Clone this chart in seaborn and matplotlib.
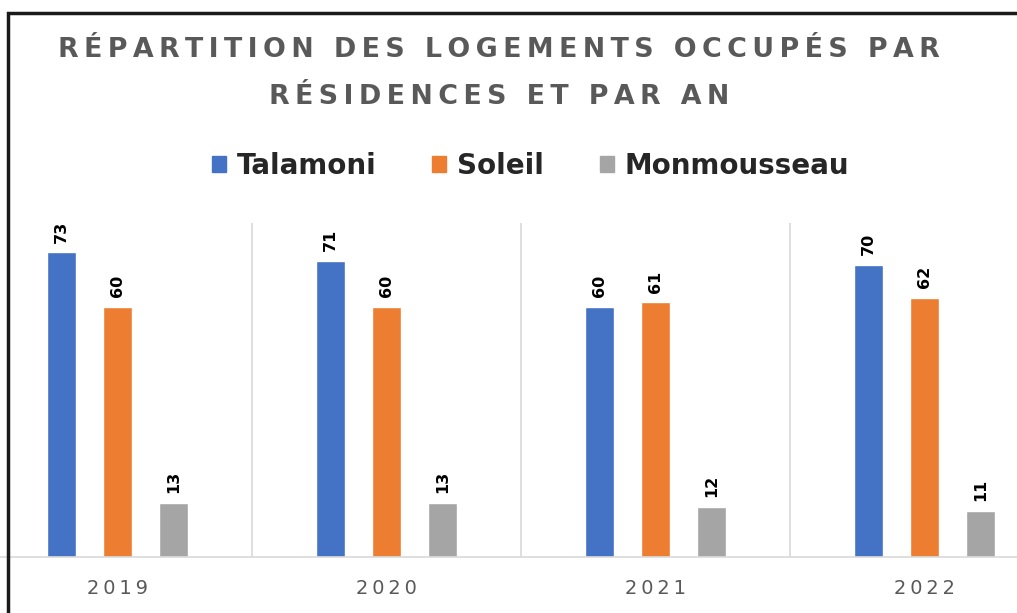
import matplotlib
matplotlib.use("Agg")
import matplotlib.pyplot as plt
import matplotlib.patches as mpatches
import seaborn as sns
import pandas as pd
import numpy as np

years = ["2019", "2020", "2021", "2022"]
talamoni = [73, 71, 60, 70]
soleil = [60, 60, 61, 62]
monmousseau = [13, 13, 12, 11]
residences = ["Talamoni", "Soleil", "Monmousseau"]
colors = ["#4472C4", "#ED7D31", "#A5A5A5"]
title_lines = ["RÉPARTITION DES LOGEMENTS OCCUPÉS PAR", "RÉSIDENCES ET PAR AN"]

df = pd.DataFrame({
    "An": years * 3,
    "Résidence": [r for r in residences for _ in years],
    "Logements": talamoni + soleil + monmousseau,
})


def spaced(s, sep="\u2009"):
    # fake letter spacing with thin spaces
    return sep.join(s)


sns.set_style("white")
plt.rcParams["font.family"] = ["DejaVu Sans"]

W, H = 1017, 613
fig = plt.figure(figsize=(W / 100, H / 100), dpi=100)
# plot area is wider than the cropped picture (left edge sits off-canvas)
ax = fig.add_axes([-17 / W, 56 / H, 1076 / W, 334 / H])

sns.barplot(data=df, x="An", y="Logements", hue="Résidence",
            palette=colors, width=0.625, gap=0.48, ax=ax, legend=False,
            saturation=1)

for c in ax.containers:
    ax.bar_label(c, rotation=90, padding=7, fontsize=11.5, fontweight="bold",
                 color="#000000")

ax.set_ylim(0, 80)
ax.set_xlim(-0.5, 3.5)
ax.set_yticks([])
ax.set_xlabel("")
ax.set_ylabel("")
ax.set_xticks(range(len(years)))
ax.set_xticklabels([spaced(y, "\u2009") for y in years], fontsize=14,
                   color="#595959")
ax.tick_params(axis="x", length=0, pad=16)
ax.set_xticks([0.5, 1.5, 2.5], minor=True)
ax.tick_params(axis="x", which="minor", length=0)
ax.grid(which="minor", axis="x", color="#D9D9D9", linewidth=1.2)
for s in ["top", "left", "right"]:
    ax.spines[s].set_visible(False)
ax.spines["bottom"].set_color("#D9D9D9")
ax.spines["bottom"].set_linewidth(1.2)

for i, line in enumerate(title_lines):
    fig.text(0.491, 1 - (50 + 47 * i) / H, spaced(line),
             ha="center", va="center", fontsize=19.4, fontweight="bold",
             color="#595959")

handles = [mpatches.Patch(color=c, label=r) for c, r in zip(colors, residences)]
fig.legend(handles=handles, loc="center", bbox_to_anchor=(0.522, 1 - 166 / H),
           ncol=3, frameon=False, prop={"size": 20, "weight": "bold"},
           handlelength=0.5, handleheight=0.5, handletextpad=0.4,
           columnspacing=2.0)

# outer frame of the cropped chart
fig.patches.append(mpatches.Rectangle((8 / W, -0.1), 1.2, 0.1 + 1 - 13 / H,
                                      transform=fig.transFigure, fill=False,
                                      edgecolor="#1a1a1a", linewidth=2.5))

fig.savefig("out.png", dpi=100)
